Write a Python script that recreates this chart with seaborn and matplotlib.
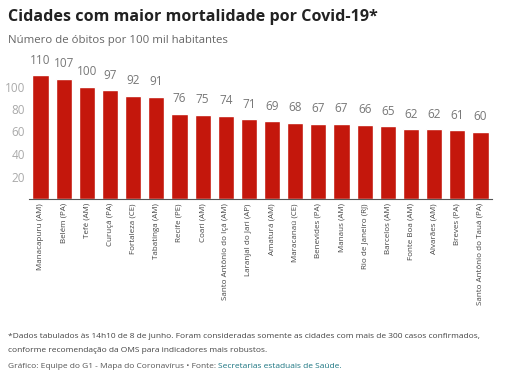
import matplotlib
matplotlib.use("Agg")
import matplotlib.pyplot as plt
import seaborn as sns
import pandas as pd

cities = [
    "Manacapuru (AM)", "Belém (PA)", "Tefé (AM)", "Curuçá (PA)", "Fortaleza (CE)",
    "Tabatinga (AM)", "Recife (PE)", "Coari (AM)", "Santo Antônio do Içá (AM)",
    "Laranjal do Jari (AP)", "Amaturá (AM)", "Maracanaú (CE)", "Benevides (PA)",
    "Manaus (AM)", "Rio de Janeiro (RJ)", "Barcelos (AM)", "Fonte Boa (AM)",
    "Alvarães (AM)", "Breves (PA)", "Santo Antônio do Tauá (PA)",
]
deaths_per_100k = [110, 107, 100, 97, 92, 91, 76, 75, 74, 71,
                   69, 68, 67, 67, 66, 65, 62, 62, 61, 60]
y_ticks = [20, 40, 60, 80, 100]

RED = "#c4170c"

sns.set_style("white")
plt.rcParams["font.family"] = ["Open Sans", "DejaVu Sans"]

df = pd.DataFrame({"city": cities, "value": deaths_per_100k})

fig = plt.figure(figsize=(5.09, 3.77), dpi=100)
ax = fig.add_axes([29 / 509, 1 - 199 / 377, 463 / 509, 135 / 377])

sns.barplot(data=df, x="city", y="value", color=RED, width=0.7,
            saturation=1, ax=ax)

ax.set_ylim(0, 120)
ax.set_xlim(-0.5, len(cities) - 0.5)
ax.set_yticks(y_ticks)
ax.tick_params(axis="y", length=0, labelsize=8.5, labelcolor="#aaaaaa", pad=3)
ax.tick_params(axis="x", length=0, pad=3)
ax.set_xticks(range(len(cities)))
ax.set_xticklabels(cities, rotation=90, fontsize=5.8, color="#444444")
ax.set_xlabel("")
ax.set_ylabel("")
for s in ["top", "right", "left"]:
    ax.spines[s].set_visible(False)
ax.spines["bottom"].set_color("#555555")
ax.spines["bottom"].set_linewidth(0.8)

for i, v in enumerate(deaths_per_100k):
    ax.annotate(str(v), (i, v), xytext=(0, 6), textcoords="offset points",
                ha="center", va="bottom", fontsize=8.5, color="#777777")

fig.text(8 / 509, 1 - 17 / 377, "Cidades com maior mortalidade por Covid-19*",
         fontsize=11.6, fontweight="bold", color="#222222", va="center")
fig.text(8 / 509, 1 - 41 / 377, "Número de óbitos por 100 mil habitantes",
         fontsize=8.2, color="#666666", va="center")

foot_lines = [
    "*Dados tabulados às 14h10 de 8 de junho. Foram consideradas somente as cidades com mais de 300 casos confirmados,",
    "conforme recomendação da OMS para indicadores mais robustos.",
]
for y, line in zip([337, 350], foot_lines):
    fig.text(8 / 509, 1 - y / 377, line, fontsize=6.0, color="#444444", va="center")
t = fig.text(8 / 509, 1 - 366 / 377, "Gráfico: Equipe do G1 - Mapa do Coronavírus • Fonte: ",
             fontsize=6.0, color="#555555", va="center")
fig.canvas.draw()
bb = t.get_window_extent()
fig.text(bb.x1 / fig.bbox.width, 1 - 366 / 377, "Secretarias estaduais de Saúde.",
         fontsize=6.0, color="#1a7480", va="center")

fig.savefig("out.png", dpi=100)
